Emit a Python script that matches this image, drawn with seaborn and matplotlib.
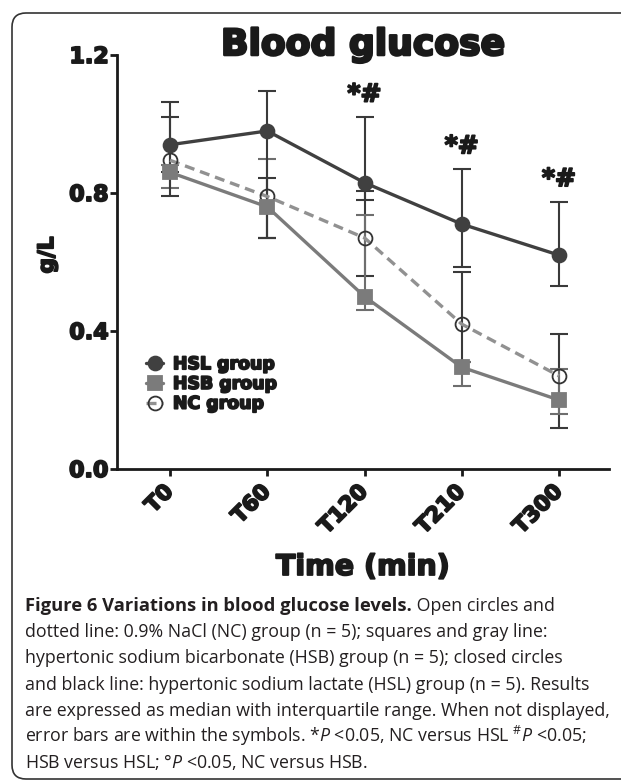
import matplotlib
matplotlib.use("Agg")
import matplotlib.pyplot as plt
import matplotlib.patheffects as pe
from matplotlib.patches import PathPatch
from matplotlib.path import Path
from matplotlib.transforms import IdentityTransform
import numpy as np
import pandas as pd
import seaborn as sns

# values (median and interquartile range, g/L)
times = ["T0", "T60", "T120", "T210", "T300"]
hsl_med = [0.94, 0.98, 0.83, 0.71, 0.62]
hsl_q1 = [0.79, 0.67, 0.78, 0.585, 0.53]
hsl_q3 = [1.065, 1.095, 1.02, 0.87, 0.775]
hsb_med = [0.86, 0.76, 0.50, 0.295, 0.20]
hsb_q1 = [0.815, 0.67, 0.46, 0.24, 0.16]
hsb_q3 = [0.88, 0.90, 0.735, 0.31, 0.29]
nc_med = [0.895, 0.79, 0.67, 0.42, 0.27]
nc_q1 = [0.86, 0.67, 0.56, 0.31, 0.12]
nc_q3 = [1.02, 0.845, 0.805, 0.57, 0.39]
sig_marks = ["", "", "*#", "*#", "*#"]

caption_bold = "Figure 6 Variations in blood glucose levels."
caption_lines = [
    " Open circles and",
    "dotted line: 0.9% NaCl (NC) group (n = 5); squares and gray line:",
    "hypertonic sodium bicarbonate (HSB) group (n = 5); closed circles",
    "and black line: hypertonic sodium lactate (HSL) group (n = 5). Results",
    "are expressed as median with interquartile range. When not displayed,",
    r"error bars are within the symbols. *$\mathit{P}$ <0.05, NC versus HSL $^{\#}\mathit{P}$ <0.05;",
    r"HSB versus HSL; °$\mathit{P}$ <0.05, NC versus HSB.",
]

sns.set_style("ticks")
plt.rcParams["font.family"] = ["DejaVu Sans"]
plt.rcParams["mathtext.fontset"] = "custom"
plt.rcParams["mathtext.rm"] = "Open Sans"
plt.rcParams["mathtext.it"] = "Open Sans:italic"
plt.rcParams["mathtext.bf"] = "Open Sans:bold"

ink = "#1a1a1a"
heavy = [pe.withStroke(linewidth=1.3, foreground=ink)]
heavier = [pe.withStroke(linewidth=1.8, foreground=ink)]

pos = np.arange(len(times))
df = pd.DataFrame({
    "pos": np.tile(pos, 3),
    "median": hsl_med + hsb_med + nc_med,
    "q1": hsl_q1 + hsb_q1 + nc_q1,
    "q3": hsl_q3 + hsb_q3 + nc_q3,
    "group": ["HSL group"] * 5 + ["HSB group"] * 5 + ["NC group"] * 5,
})

styles = {
    "HSL group": dict(color="#404040", marker="o", ms=10, mfc="#404040", mec="#404040",
                      ls="-", err="#3a3a3a"),
    "HSB group": dict(color="#7b7b7b", marker="s", ms=10.5, mfc="#7b7b7b", mec="#7b7b7b",
                      ls="-", err="#6e6e6e"),
    "NC group": dict(color="#919191", marker="o", ms=10, mfc="none", mec="#333333",
                     ls=(0, (3, 1.8)), err="#3a3a3a"),
}

fig = plt.figure(figsize=(6.22, 7.83), dpi=100)
ax = fig.add_axes([0.1881, 0.401, 0.791, 0.5287])

# error bars first, lines and symbols on top
for name in ["NC group", "HSB group", "HSL group"]:
    d = df[df["group"] == name]
    st = styles[name]
    ax.errorbar(d["pos"], d["median"], yerr=[d["median"] - d["q1"], d["q3"] - d["median"]],
                fmt="none", ecolor=st["err"], elinewidth=1.5, capsize=6.3, capthick=1.5, zorder=2)

handles = {}
for name in ["NC group", "HSB group", "HSL group"]:
    d = df[df["group"] == name]
    st = styles[name]
    sns.lineplot(data=d, x="pos", y="median", ax=ax, color=st["color"], lw=2.4,
                 linestyle=st["ls"], marker=st["marker"], ms=st["ms"], mfc=st["mfc"],
                 mec=st["mec"], mew=1.3, zorder=3, label=name, legend=False)
    handles[name] = ax.get_lines()[-1]

# significance marks above the HSL upper quartile
for i, m in enumerate(sig_marks):
    if m:
        t = ax.text(pos[i], hsl_q3[i] + 0.045, m, ha="center", va="baseline",
                    fontsize=18, fontweight="bold", color=ink)
        t.set_path_effects(heavy)

ax.set_xlim(-0.545, 4.514)
ax.set_ylim(0, 1.2)
ax.set_yticks([0, 0.4, 0.8, 1.2], ["0.0", "0.4", "0.8", "1.2"])
ax.set_xticks(pos, times)
for s in ["top", "right"]:
    ax.spines[s].set_visible(False)
for s in ["left", "bottom"]:
    ax.spines[s].set_linewidth(2.0)
    ax.spines[s].set_color(ink)
ax.tick_params(axis="both", length=5, width=2, color=ink, direction="out")
ax.tick_params(axis="y", labelsize=16, pad=1)
ax.tick_params(axis="x", labelsize=15.5, pad=9)
for lbl in ax.get_yticklabels():
    lbl.set_fontweight("bold")
    lbl.set_color(ink)
    lbl.set_path_effects(heavy)
for lbl in ax.get_xticklabels():
    lbl.set_fontweight("bold")
    lbl.set_color(ink)
    lbl.set_rotation(45)
    lbl.set_ha("right")
    lbl.set_va("center")
    lbl.set_rotation_mode("anchor")
    lbl.set_path_effects(heavy)

ax.set_xlabel("Time (min)", fontsize=20.5, fontweight="bold", color=ink)
ax.xaxis.label.set_va("baseline")
ax.xaxis.set_label_coords(0.5, -0.256)
ax.xaxis.label.set_path_effects(heavy)
ax.set_ylabel("g/L", fontsize=15.5, fontweight="bold", color=ink)
ax.yaxis.label.set_va("center")
ax.yaxis.set_label_coords(-0.142, 0.517)
ax.yaxis.label.set_path_effects(heavy)

title = ax.text(0.5, 1.0, "Blood glucose", transform=ax.transAxes, ha="center",
                va="baseline", fontsize=26, fontweight="bold", color=ink)
title.set_path_effects(heavier)

leg = ax.legend([handles[n] for n in ["HSL group", "HSB group", "NC group"]],
                ["HSL group", "HSB group", "NC group"],
                loc="upper left", bbox_to_anchor=(0.059, 0.275), frameon=False,
                borderpad=0, borderaxespad=0, handlelength=1.0, handletextpad=0.55,
                labelspacing=0.1, prop=dict(size=12.5, weight="bold"))
for t in leg.get_texts():
    t.set_color(ink)
    t.set_path_effects(heavy)

# caption
cap_x = 25 / 622
base0 = 1 - 611 / 783
step = 26.2 / 783
cap_font = dict(family="Open Sans", color="#231f20")
tb = fig.text(cap_x, base0, caption_bold, fontweight="bold", fontsize=13.2,
              va="baseline", **cap_font)
ax.annotate(caption_lines[0], xy=(1, 0), xycoords=tb, va="bottom", ha="left",
            annotation_clip=False, fontsize=12.8, **cap_font)
for k, line in enumerate(caption_lines[1:], start=1):
    fig.text(cap_x, base0 - k * step, line, va="baseline", fontsize=12.8, **cap_font)

# open frame: left side with rounded corners, running off the right edge
r = 14
left, bottom, top, right = 12, 4, 770, 621
verts = [(right, top), (left + r, top), (left, top), (left, top - r),
         (left, bottom + r), (left, bottom), (left + r, bottom), (right, bottom)]
codes = [Path.MOVETO, Path.LINETO, Path.CURVE3, Path.CURVE3,
         Path.LINETO, Path.CURVE3, Path.CURVE3, Path.LINETO]
frame = PathPatch(Path(verts, codes), transform=IdentityTransform(), fill=False,
                  lw=1.2, ec="#333333")
fig.add_artist(frame)

fig.savefig("out.png", dpi=100)
